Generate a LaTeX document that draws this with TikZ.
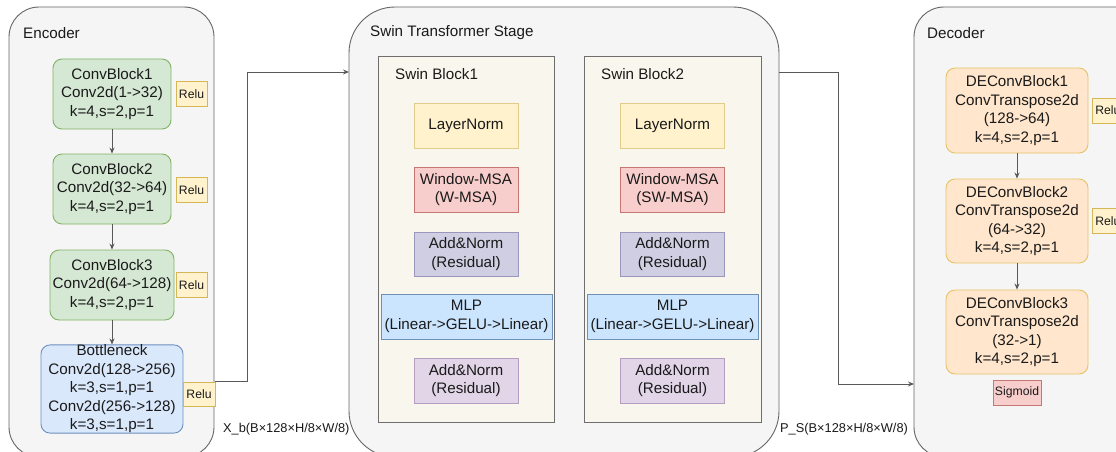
\documentclass[tikz,border=0pt]{standalone}
\usepackage{fontspec}
\setmainfont{Liberation Sans}
\usetikzlibrary{arrows.meta}
\definecolor{contfill}{HTML}{F5F5F5}
\definecolor{contdraw}{HTML}{666666}
\definecolor{grfill}{HTML}{D5E8D4}
\definecolor{grdraw}{HTML}{82B366}
\definecolor{blfill}{HTML}{DAE8FC}
\definecolor{bldraw}{HTML}{6C8EBF}
\definecolor{yefill}{HTML}{FFF2CC}
\definecolor{yedraw}{HTML}{D6B656}
\definecolor{orfill}{HTML}{FFE6CC}
\definecolor{ordraw}{HTML}{D79B00}
\definecolor{rdfill}{HTML}{F8CECC}
\definecolor{rddraw}{HTML}{B85450}
\definecolor{pufill}{HTML}{E1D5E7}
\definecolor{pudraw}{HTML}{9673A6}
\definecolor{lvfill}{HTML}{D0CEE2}
\definecolor{lvdraw}{HTML}{9A96BC}
\definecolor{mlfill}{HTML}{CCE5FF}
\definecolor{mldraw}{HTML}{6F8FB5}
\definecolor{sbfill}{HTML}{F9F7ED}
\definecolor{sbdraw}{HTML}{6E6E6E}
\definecolor{txt}{HTML}{1A1A1A}
\tikzset{
  x=1pt, y=-1pt,
  every node/.style={text=txt, inner sep=0pt, align=center},
  bigfont/.style={font=\fontsize{15.2}{18.5}\selectfont},
  smallfont/.style={font=\fontsize{12.2}{14}\selectfont},
  labfont/.style={font=\fontsize{12.8}{15}\selectfont},
  container/.style={draw=contdraw, fill=contfill, line width=0.9pt},
  rbox/.style={rounded corners=9pt, line width=0.9pt, bigfont},
  sbox/.style={line width=0.9pt, bigfont},
  greenbox/.style={rbox, draw=grdraw, fill=grfill},
  bluebox/.style={rbox, draw=bldraw, fill=blfill},
  orangebox/.style={rbox, draw=ordraw!60, fill=orfill},
  relubox/.style={draw=yedraw, fill=yefill, line width=0.7pt, smallfont, minimum width=31pt, minimum height=25pt},
  sigbox/.style={draw=rddraw!80, fill=rdfill, line width=0.7pt, smallfont, minimum width=48pt, minimum height=25pt},
  lnbox/.style={sbox, draw=yedraw!70, fill=yefill, minimum width=104pt, minimum height=45pt},
  msabox/.style={sbox, draw=rddraw!80, fill=rdfill, minimum width=104pt, minimum height=45pt},
  an1box/.style={sbox, draw=lvdraw, fill=lvfill, minimum width=104pt, minimum height=44pt},
  an2box/.style={sbox, draw=pudraw!70, fill=pufill, minimum width=104pt, minimum height=45pt},
  mlpbox/.style={sbox, draw=mldraw, fill=mlfill, minimum width=171pt, minimum height=45pt},
  swinblock/.style={draw=sbdraw, fill=sbfill, line width=0.9pt},
  conn/.style={draw=black!65, line width=0.9pt, -{Stealth[length=6pt,width=5pt]}},
}
\begin{document}
\begin{tikzpicture}
\useasboundingbox (0,0) rectangle (1116,452);
\clip (0,0) rectangle (1116,452);
\fill[white] (0,0) rectangle (1116,452);

% containers
\draw[container, rounded corners=30pt] (9,7) rectangle (214,457);
\draw[container, rounded corners=46pt] (349,7) rectangle (779,457);
\draw[container, rounded corners=30pt] (914,7) rectangle (1150,457);

\node[bigfont, anchor=west] (enct) at (23,33) {Encoder};
\node[bigfont, anchor=west] (swint) at (370,33) {Swin Transformer Stage};
\node[bigfont, anchor=west] (dect) at (927,33) {Decoder};

% encoder
\node[greenbox, minimum width=118pt, minimum height=70pt] (cb1) at (112,94) {ConvBlock1\\Conv2d(1->32)\\k=4,s=2,p=1};
\node[relubox] (r1) at (191.5,94) {Relu};
\node[greenbox, minimum width=118pt, minimum height=70pt] (cb2) at (112,189) {ConvBlock2\\Conv2d(32->64)\\k=4,s=2,p=1};
\node[relubox] (r2) at (191.5,190) {Relu};
\node[greenbox, minimum width=124pt, minimum height=70pt] (cb3) at (112,285) {ConvBlock3\\Conv2d(64->128)\\k=4,s=2,p=1};
\node[relubox] (r3) at (191.5,285) {Relu};
\node[bluebox, minimum width=142pt, minimum height=86pt] (bn) at (112,389) {Bottleneck\\Conv2d(128->256)\\k=3,s=1,p=1\\Conv2d(256->128)\\k=3,s=1,p=1};
\node[relubox, minimum width=32pt, minimum height=24pt] (r4) at (199,394) {Relu};

\draw[conn] (cb1) -- (cb2);
\draw[conn] (cb2) -- (cb3);
\draw[conn] (cb3) -- (bn);

% swin blocks
\draw[swinblock] (378,56) rectangle (554,422);
\draw[swinblock] (584,56) rectangle (761,422);
\node[bigfont, anchor=west] (sb1t) at (395,74) {Swin Block1};
\node[bigfont, anchor=west] (sb2t) at (601,74) {Swin Block2};

\node[lnbox] (ln1) at (466,125.5) {LayerNorm};
\node[msabox] (msa1) at (466,189.5) {Window-MSA\\(W-MSA)};
\node[an1box] (an11) at (466,254) {Add\&Norm\\(Residual)};
\node[mlpbox] (mlp1) at (466.5,316.5) {MLP\\(Linear->GELU->Linear)};
\node[an2box] (an21) at (466,380.5) {Add\&Norm\\(Residual)};

\node[lnbox] (ln2) at (672.5,125.5) {LayerNorm};
\node[msabox] (msa2) at (672.5,189.5) {Window-MSA\\(SW-MSA)};
\node[an1box] (an12) at (672.5,254) {Add\&Norm\\(Residual)};
\node[mlpbox] (mlp2) at (672.5,316.5) {MLP\\(Linear->GELU->Linear)};
\node[an2box] (an22) at (672.5,380.5) {Add\&Norm\\(Residual)};

% decoder
\node[orangebox, minimum width=142pt, minimum height=85pt] (dc1) at (1017,110.5) {DEConvBlock1\\ConvTranspose2d\\(128->64)\\k=4,s=2,p=1};
\node[relubox, anchor=west] (dr1) at (1092,110.5) {Relu};
\node[orangebox, minimum width=142pt, minimum height=84pt] (dc2) at (1017,221) {DEConvBlock2\\ConvTranspose2d\\(64->32)\\k=4,s=2,p=1};
\node[relubox, anchor=west] (dr2) at (1092,221) {Relu};
\node[orangebox, minimum width=142pt, minimum height=84pt] (dc3) at (1017,332) {DEConvBlock3\\ConvTranspose2d\\(32->1)\\k=4,s=2,p=1};
\node[sigbox] (sig) at (1017,392.5) {Sigmoid};

\draw[conn] (dc1) -- (dc2);
\draw[conn] (dc2) -- (dc3);

% connectors between stages
\coordinate (enc-out) at (r4.north east);
\coordinate (swin-in) at (349,72);
\coordinate (swin-out) at (779,72);
\coordinate (dec-in) at (914,384);
\draw[conn] (enc-out) -| (247,72) -- (swin-in);
\draw[conn] (swin-out) -| (838,384) -- (dec-in);

\node[labfont, anchor=west] (xb) at (223,429) {X\_b(B×128×H/8×W/8)};
\node[labfont, anchor=west] (ps) at (780,429) {P\_S(B×128×H/8×W/8)};
\end{tikzpicture}
\end{document}
